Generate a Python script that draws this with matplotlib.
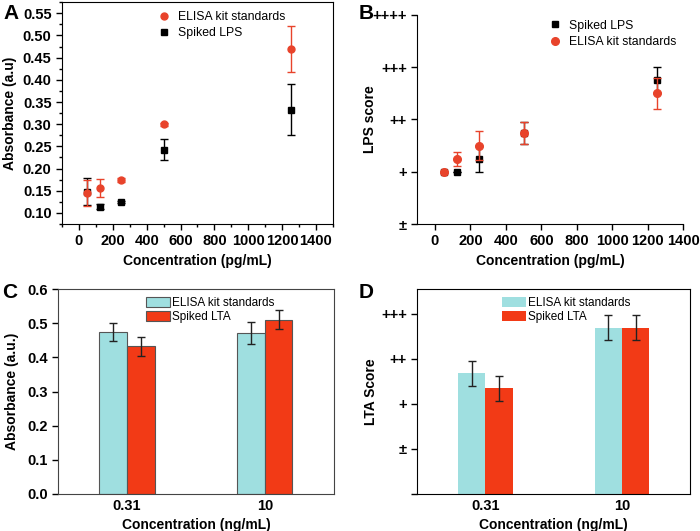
import numpy as np
import matplotlib.pyplot as plt
from matplotlib.ticker import MultipleLocator

plt.rcParams['font.family'] = ['Liberation Sans', 'DejaVu Sans']
plt.rcParams['font.weight'] = 'bold'

# colores
rojo = '#e8432b'
cian = '#9fdfe0'
rojo_barra = '#f23a16'

# Panel A - absorbancia LPS
conc_A = [50, 125, 250, 500, 1250]
elisa_A = [0.145, 0.157, 0.174, 0.300, 0.469]
elisa_A_err = [0.029, 0.020, 0.005, 0.003, 0.052]
lps_A = [0.148, 0.114, 0.125, 0.243, 0.333]
lps_A_err = [0.031, 0.006, 0.002, 0.024, 0.057]

# Panel B - puntaje LPS (+ = 1, ++ = 2 ...)
conc_B = [50, 125, 250, 500, 1250]
lps_B = [1.0, 1.0, 1.25, 1.75, 2.75]
lps_B_err = [0, 0, 0.25, 0.21, 0.25]
elisa_B = [1.0, 1.25, 1.5, 1.75, 2.5]
elisa_B_err = [0, 0.13, 0.28, 0.21, 0.3]
score_B = ['\u00b1', '+', '++', '+++', '++++']

# Panel C - absorbancia LTA
cats = ['0.31', '10']
elisa_C = [0.474, 0.471]
elisa_C_err = [0.027, 0.032]
lta_C = [0.432, 0.510]
lta_C_err = [0.028, 0.028]

# Panel D - puntaje LTA
elisa_D = [2.68, 3.69]
elisa_D_err = [0.28, 0.28]
lta_D = [2.35, 3.69]
lta_D_err = [0.28, 0.28]
score_D = ['', '\u00b1', '+', '++', '+++']

fig = plt.figure(figsize=(7, 5.31), dpi=100)

axA = fig.add_axes([0.0886, 0.578, 0.387, 0.418])
axB = fig.add_axes([0.596, 0.578, 0.380, 0.394])
axC = fig.add_axes([0.0829, 0.0697, 0.394, 0.386])
axD = fig.add_axes([0.596, 0.0697, 0.390, 0.386])

tick_kw = dict(direction='out', labelsize=10.5, width=1, length=4)
lab_kw = dict(fontsize=10, fontweight='bold')

###############################################################
# A
axA.errorbar(conc_A, elisa_A, yerr=elisa_A_err, fmt='o', color=rojo, ms=5,
              capsize=3, elinewidth=1, label='ELISA kit standards', zorder=3)
axA.errorbar(conc_A, lps_A, yerr=lps_A_err, fmt='s', color='black', ms=5,
              capsize=3, elinewidth=1, label='Spiked LPS', zorder=2)
axA.set_xlim(-100, 1500)
axA.set_ylim(0.075, 0.575)
axA.xaxis.set_major_locator(MultipleLocator(200))
axA.xaxis.set_minor_locator(MultipleLocator(100))
axA.yaxis.set_major_locator(MultipleLocator(0.05))
axA.yaxis.set_minor_locator(MultipleLocator(0.025))
axA.tick_params(which='both', **tick_kw)
axA.tick_params(which='minor', length=2)
axA.set_xlabel('Concentration (pg/mL)', **lab_kw)
axA.set_ylabel('Absorbance (a.u)', **lab_kw)
h, l = axA.get_legend_handles_labels()
axA.legend([x[0] for x in h], l, loc='upper left', bbox_to_anchor=(0.29, 1.01),
           frameon=False, prop={'weight': 'normal', 'size': 8.8}, handletextpad=0.2,
           labelspacing=0.35)

###############################################################
# B
axB.errorbar(conc_B, lps_B, yerr=lps_B_err, fmt='s', color='black', ms=5,
             capsize=3, elinewidth=1, label='Spiked LPS', zorder=2)
axB.errorbar(conc_B, elisa_B, yerr=elisa_B_err, fmt='o', color=rojo, ms=5.5,
             capsize=3, elinewidth=1, label='ELISA kit standards', zorder=3)
axB.set_xlim(-100, 1400)
axB.set_ylim(0, 4)
axB.xaxis.set_major_locator(MultipleLocator(200))
axB.set_yticks(range(5))
axB.set_yticklabels(score_B)
axB.spines['top'].set_visible(False)
axB.spines['right'].set_visible(False)
axB.tick_params(**tick_kw)
axB.set_xlabel('Concentration (pg/mL)', **lab_kw)
axB.set_ylabel('LPS score', **lab_kw)
axB.yaxis.set_label_coords(-0.15, 0.5)
h, l = axB.get_legend_handles_labels()
axB.legend([x[0] for x in h], l, loc='upper left', bbox_to_anchor=(0.43, 1.03),
           frameon=False, prop={'weight': 'normal', 'size': 8.8}, handletextpad=0.2,
           labelspacing=0.35)

###############################################################
# C
x = np.arange(len(cats))
w = 0.2
err_kw = dict(ecolor='#222222', elinewidth=1, capsize=3, capthick=1)
axC.bar(x - w/2, elisa_C, w, yerr=elisa_C_err, color=cian, edgecolor='#555555',
        linewidth=0.8, error_kw=err_kw, label='ELISA kit standards')
axC.bar(x + w/2, lta_C, w, yerr=lta_C_err, color=rojo_barra, edgecolor='#555555',
        linewidth=0.8, error_kw=err_kw, label='Spiked LTA')
axC.set_xlim(-0.5, 1.5)
axC.set_ylim(0, 0.6)
axC.set_xticks(x)
axC.set_xticklabels(cats)
axC.yaxis.set_major_locator(MultipleLocator(0.1))
axC.tick_params(**tick_kw)
axC.tick_params(axis='x', length=0)
for s in axC.spines.values():
    s.set_color('#444444')
axC.set_xlabel('Concentration (ng/mL)', **lab_kw)
axC.set_ylabel('Absorbance (a.u.)', **lab_kw)
axC.yaxis.set_label_coords(-0.14, 0.5)
axC.legend(loc='upper left', bbox_to_anchor=(0.29, 1.0), frameon=False,
           prop={'weight': 'normal', 'size': 8.5}, handlelength=2.0,
           handleheight=0.95, labelspacing=0.1, handletextpad=0.2, borderpad=0.2)

###############################################################
# D
axD.bar(x - w/2, elisa_D, w, yerr=elisa_D_err, color=cian, error_kw=err_kw,
        label='ELISA kit standards')
axD.bar(x + w/2, lta_D, w, yerr=lta_D_err, color=rojo_barra, error_kw=err_kw,
        label='Spiked LTA')
axD.set_xlim(-0.5, 1.5)
axD.set_ylim(0, 4.55)
axD.set_xticks(x)
axD.set_xticklabels(cats)
axD.set_yticks(range(5))
axD.set_yticklabels(score_D)
axD.tick_params(**tick_kw)
axD.tick_params(axis='x', length=0)
axD.set_xlabel('Concentration (ng/mL)', **lab_kw)
axD.set_ylabel('LTA Score', **lab_kw)
axD.yaxis.set_label_coords(-0.143, 0.5)
axD.legend(loc='upper left', bbox_to_anchor=(0.28, 1.0), frameon=False,
           prop={'weight': 'normal', 'size': 8.5}, handlelength=2.0,
           handleheight=0.95, labelspacing=0.1, handletextpad=0.2, borderpad=0.2)

# letras de los paneles
for txt, xp, yp in [('A', 0.005, 0.975), ('B', 0.513, 0.975), ('C', 0.003, 0.45), ('D', 0.513, 0.45)]:
    fig.text(xp, yp, txt, fontsize=15, fontweight='bold', va='center')

fig.savefig('out.png', dpi=100)
